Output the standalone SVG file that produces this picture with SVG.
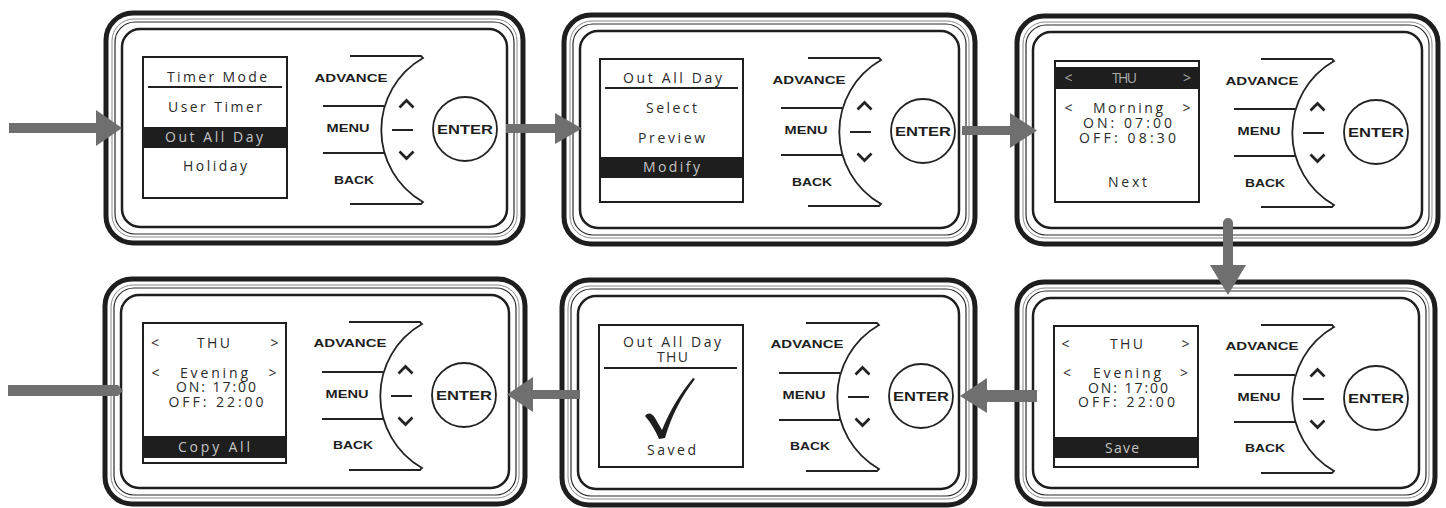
<svg xmlns="http://www.w3.org/2000/svg" xmlns:xlink="http://www.w3.org/1999/xlink" width="1446" height="508" viewBox="0 0 1446 508">
<style>
.o{fill:#fff;stroke:#1e1e1e;stroke-width:5}
.g{fill:none;stroke:#8a8a8a;stroke-width:1}
.t{fill:none;stroke:#2a2a2a;stroke-width:1.2}
.m{fill:none;stroke:#1e1e1e;stroke-width:2.5}
.scr{fill:#fff;stroke:#1e1e1e;stroke-width:2}
.ln{fill:none;stroke:#222;stroke-width:1.8}
.chev{fill:none;stroke:#222;stroke-width:2.7}
.bar{fill:#1e1e1e}
.tx{font-family:"Open Sans","Noto Sans",sans-serif;font-size:14px;fill:#2b2b2b;text-anchor:middle}
.hl{fill:#c4c4c4}
.hd{fill:#a8a8a8}
.bl{font-family:"Liberation Sans",Arial,sans-serif;font-weight:bold;font-size:11px;fill:#1e1e1e;text-anchor:middle}
.en{font-size:12.5px}
.arr{fill:#6f6f6f}
</style>
<defs>
<g id="ctrl">
<path class="ln" d="M246,45 H317 L319,47 A83,83 0 0 0 319,191 L317,193 H246"/>
<path class="ln" d="M219,95 H280 M219,142 H280 M288,119 H309"/>
<path class="chev" d="M295.5,96.5 L302.5,89.5 L309.5,96.5 M295.5,140.5 L302.5,147.5 L309.5,140.5"/>
<circle class="ln" cx="361" cy="118" r="32"/>
</g>
</defs>
<rect width="1446" height="508" fill="#fff"/>

<g id="panel1" transform="translate(104,11)">
<rect class="o" x="2" y="2" width="417" height="230" rx="27"/>
<rect class="g" x="8" y="8" width="405" height="218" rx="22"/>
<rect class="t" x="11" y="11" width="399" height="212" rx="20"/>
<rect class="m" x="18" y="18" width="385" height="198" rx="18"/>
<rect class="scr" x="39" y="46" width="144" height="141"/>
<text class="tx" x="113" y="71" textLength="100">Timer Mode</text>
<path class="ln" d="M44,76 H178"/>
<text class="tx" x="111" y="101" textLength="94">User Timer</text>
<rect class="bar" x="39" y="116" width="144" height="21"/>
<text class="tx hl" x="110" y="131" textLength="98">Out All Day</text>
<text class="tx" x="111" y="160" textLength="64">Holiday</text>
<use xlink:href="#ctrl"/>
<text class="bl" x="247" y="71" textLength="73" lengthAdjust="spacingAndGlyphs">ADVANCE</text>
<text class="bl" x="244" y="121" textLength="43" lengthAdjust="spacingAndGlyphs">MENU</text>
<text class="bl" x="250" y="173" textLength="40" lengthAdjust="spacingAndGlyphs">BACK</text>
<text class="bl en" x="361" y="123" textLength="56" lengthAdjust="spacingAndGlyphs">ENTER</text>
</g>

<g id="panel2" transform="translate(562,13)">
<rect class="o" x="2" y="2" width="411" height="229" rx="27"/>
<rect class="g" x="8" y="8" width="399" height="217" rx="22"/>
<rect class="t" x="11" y="11" width="393" height="211" rx="20"/>
<rect class="m" x="18" y="18" width="379" height="197" rx="18"/>
<rect class="scr" x="38" y="46" width="143" height="143"/>
<text class="tx" x="110.5" y="70" textLength="99">Out All Day</text>
<path class="ln" d="M43,75 H176"/>
<text class="tx" x="109.5" y="100" textLength="51">Select</text>
<text class="tx" x="109.5" y="130" textLength="67">Preview</text>
<rect class="bar" x="38" y="144" width="143" height="21"/>
<text class="tx hl" x="109.5" y="159" textLength="57">Modify</text>
<use xlink:href="#ctrl"/>
<text class="bl" x="247" y="71" textLength="73" lengthAdjust="spacingAndGlyphs">ADVANCE</text>
<text class="bl" x="244" y="121" textLength="43" lengthAdjust="spacingAndGlyphs">MENU</text>
<text class="bl" x="250" y="173" textLength="40" lengthAdjust="spacingAndGlyphs">BACK</text>
<text class="bl en" x="361" y="123" textLength="56" lengthAdjust="spacingAndGlyphs">ENTER</text>
</g>

<g id="panel3" transform="translate(1015,14)">
<rect class="o" x="2" y="2" width="421" height="228" rx="27"/>
<rect class="g" x="8" y="8" width="409" height="216" rx="22"/>
<rect class="t" x="11" y="11" width="403" height="210" rx="20"/>
<rect class="m" x="18" y="18" width="389" height="196" rx="18"/>
<rect class="scr" x="40" y="47" width="144" height="141"/>
<rect class="bar" x="40" y="53" width="144" height="22"/>
<text class="tx hd" x="53.5" y="69">&lt;</text>
<text class="tx hd" x="109.5" y="69" textLength="25">THU</text>
<text class="tx hd" x="172" y="69">&gt;</text>
<text class="tx" x="53.5" y="99">&lt;</text>
<text class="tx" x="113" y="99" textLength="70">Morning</text>
<text class="tx" x="171.5" y="99">&gt;</text>
<text class="tx" x="112.5" y="114" textLength="89">ON: 07:00</text>
<text class="tx" x="112.5" y="129" textLength="97">OFF: 08:30</text>
<text class="tx" x="112.5" y="173" textLength="39">Next</text>
<use xlink:href="#ctrl"/>
<text class="bl" x="247" y="71" textLength="73" lengthAdjust="spacingAndGlyphs">ADVANCE</text>
<text class="bl" x="244" y="121" textLength="43" lengthAdjust="spacingAndGlyphs">MENU</text>
<text class="bl" x="250" y="173" textLength="40" lengthAdjust="spacingAndGlyphs">BACK</text>
<text class="bl en" x="361" y="123" textLength="56" lengthAdjust="spacingAndGlyphs">ENTER</text>
</g>

<g id="panel4" transform="translate(103,277)">
<rect class="o" x="2" y="2" width="420" height="225" rx="27"/>
<rect class="g" x="8" y="8" width="408" height="213" rx="22"/>
<rect class="t" x="11" y="11" width="402" height="207" rx="20"/>
<rect class="m" x="18" y="18" width="388" height="193" rx="18"/>
<rect class="scr" x="40" y="46" width="143" height="140"/>
<text class="tx" x="52" y="71">&lt;</text>
<text class="tx" x="110.5" y="71" textLength="33">THU</text>
<text class="tx" x="171.5" y="71">&gt;</text>
<text class="tx" x="52.5" y="101">&lt;</text>
<text class="tx" x="111" y="101" textLength="68">Evening</text>
<text class="tx" x="169.5" y="101">&gt;</text>
<text class="tx" x="113" y="115" textLength="80">ON: 17:00</text>
<text class="tx" x="113" y="130" textLength="95">OFF: 22:00</text>
<rect class="bar" x="40" y="159" width="143" height="22"/>
<text class="tx hl" x="111" y="175" textLength="72">Copy All</text>
<use xlink:href="#ctrl"/>
<text class="bl" x="247" y="70" textLength="73" lengthAdjust="spacingAndGlyphs">ADVANCE</text>
<text class="bl" x="244" y="121" textLength="43" lengthAdjust="spacingAndGlyphs">MENU</text>
<text class="bl" x="250" y="172" textLength="40" lengthAdjust="spacingAndGlyphs">BACK</text>
<text class="bl en" x="361" y="123" textLength="56" lengthAdjust="spacingAndGlyphs">ENTER</text>
</g>

<g id="panel5" transform="translate(560,278)">
<rect class="o" x="2" y="2" width="413" height="225" rx="27"/>
<rect class="g" x="8" y="8" width="401" height="213" rx="22"/>
<rect class="t" x="11" y="11" width="395" height="207" rx="20"/>
<rect class="m" x="18" y="18" width="381" height="193" rx="18"/>
<rect class="scr" x="39" y="47" width="144" height="142"/>
<text class="tx" x="112" y="69" textLength="98">Out All Day</text>
<text class="tx" x="112.5" y="84" textLength="31">THU</text>
<path class="ln" d="M44,90 H177"/>
<path fill="#1e1e1e" d="M85,138 C88,134 92,135 95,140 L102,152 C110,132 120,116 133,100 L135,101 C122,118 112,136 105,160 L99,161 C95,152 91,145 85,138 Z"/>
<text class="tx" x="111.5" y="177" textLength="49">Saved</text>
<use xlink:href="#ctrl"/>
<text class="bl" x="247" y="70" textLength="73" lengthAdjust="spacingAndGlyphs">ADVANCE</text>
<text class="bl" x="244" y="121" textLength="43" lengthAdjust="spacingAndGlyphs">MENU</text>
<text class="bl" x="250" y="172" textLength="40" lengthAdjust="spacingAndGlyphs">BACK</text>
<text class="bl en" x="361" y="123" textLength="56" lengthAdjust="spacingAndGlyphs">ENTER</text>
</g>

<g id="panel6" transform="translate(1015,280)">
<rect class="o" x="2" y="2" width="418" height="222" rx="27"/>
<rect class="g" x="8" y="8" width="406" height="210" rx="22"/>
<rect class="t" x="11" y="11" width="400" height="204" rx="20"/>
<rect class="m" x="18" y="18" width="386" height="190" rx="18"/>
<rect class="scr" x="39" y="46" width="144" height="141"/>
<text class="tx" x="50.5" y="69">&lt;</text>
<text class="tx" x="111.5" y="69" textLength="33">THU</text>
<text class="tx" x="170.5" y="69">&gt;</text>
<text class="tx" x="52" y="98">&lt;</text>
<text class="tx" x="112" y="98" textLength="68">Evening</text>
<text class="tx" x="169" y="98">&gt;</text>
<text class="tx" x="113" y="113" textLength="80">ON: 17:00</text>
<text class="tx" x="111.5" y="127" textLength="97">OFF: 22:00</text>
<rect class="bar" x="39" y="157" width="144" height="21"/>
<text class="tx hl" x="107" y="173" textLength="34">Save</text>
<use xlink:href="#ctrl"/>
<text class="bl" x="247" y="70" textLength="73" lengthAdjust="spacingAndGlyphs">ADVANCE</text>
<text class="bl" x="244" y="121" textLength="43" lengthAdjust="spacingAndGlyphs">MENU</text>
<text class="bl" x="250" y="172" textLength="40" lengthAdjust="spacingAndGlyphs">BACK</text>
<text class="bl en" x="361" y="123" textLength="56" lengthAdjust="spacingAndGlyphs">ENTER</text>
</g>

<g id="connectors">
<polygon class="arr" points="9,123 96,123 96,110 122,128 96,146 96,133 9,133"/>
<polygon class="arr" points="506,124 555,124 555,113 582,128.5 555,144 555,133 506,133"/>
<polygon class="arr" points="962,126 1010,126 1010,113 1037,130.5 1010,148 1010,135 962,135"/>
<path class="arr" d="M1223,223 A5,5 0 0 1 1233,223 V265 H1246 L1228,295 L1210,265 H1223 Z"/>
<polygon class="arr" points="1037,390 987,390 987,378 960,396 987,413 987,402 1037,402"/>
<polygon class="arr" points="580,390 533,390 533,377 507,394.5 533,412 533,399 580,399"/>
<polygon class="arr" points="8,385 118,385 123,390.5 118,396 8,396"/>
</g>
</svg>
